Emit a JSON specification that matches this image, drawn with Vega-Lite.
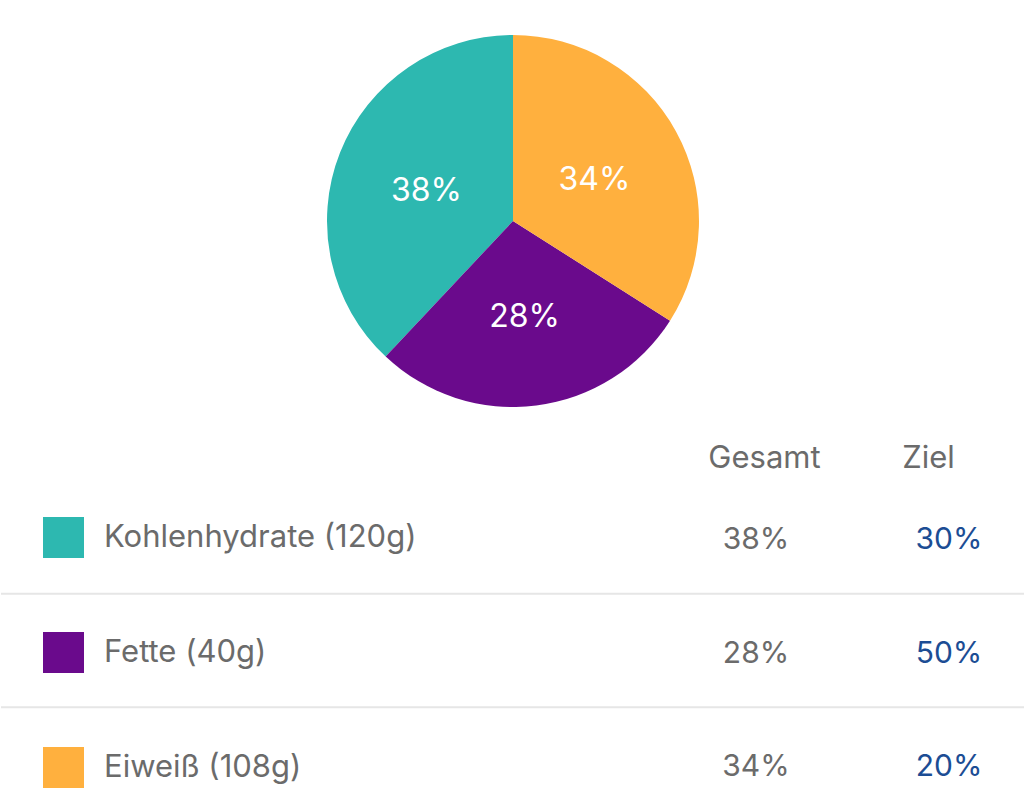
{
  "$schema": "https://vega.github.io/schema/vega-lite/v6.json",
  "padding": 0,
  "spacing": 0,
  "background": "white",
  "config": {
    "view": {"stroke": null},
    "font": "Inter",
    "concat": {"spacing": 0}
  },
  "data": {
    "values": [
      {"name": "Kohlenhydrate (120g)", "gesamt": 0.38, "ziel": 0.30},
      {"name": "Fette (40g)", "gesamt": 0.28, "ziel": 0.50},
      {"name": "Eiweiß (108g)", "gesamt": 0.34, "ziel": 0.20}
    ]
  },
  "vconcat": [
    {
      "width": 1024,
      "height": 442,
      "layer": [
        {
          "mark": {"type": "arc", "outerRadius": 186},
          "encoding": {
            "theta": {"field": "gesamt", "type": "quantitative", "stack": true},
            "order": {"field": "name", "type": "ordinal"},
            "color": {
              "field": "name",
              "type": "nominal",
              "scale": {
                "domain": ["Kohlenhydrate (120g)", "Fette (40g)", "Eiweiß (108g)"],
                "range": ["#2db8b0", "#6a0a8c", "#ffb03e"]
              },
              "legend": {
                "orient": "none",
                "legendX": 42,
                "legendY": 517,
                "direction": "vertical",
                "title": null,
                "padding": 0,
                "symbolType": "square",
                "symbolSize": 1681,
                "symbolStrokeWidth": 0,
                "symbolOpacity": 1,
                "labelFont": "Inter",
                "labelFontSize": 31,
                "labelColor": "#6b6b6b",
                "labelOffset": 20,
                "labelLimit": 500,
                "rowPadding": 74
              }
            }
          }
        },
        {
          "mark": {"type": "text", "radius": 93, "fill": "white", "fontSize": 32, "dy": 4},
          "encoding": {
            "theta": {"field": "gesamt", "type": "quantitative", "stack": true},
            "order": {"field": "name", "type": "ordinal"},
            "text": {"field": "gesamt", "type": "quantitative", "format": ".0%"}
          }
        }
      ]
    },
    {
      "width": 1024,
      "height": 336,
      "encoding": {
        "y": {
          "field": "name",
          "type": "nominal",
          "scale": {
            "type": "point",
            "domain": ["Kohlenhydrate (120g)", "Fette (40g)", "Eiweiß (108g)"],
            "padding": 0.4803,
            "align": 0.607
          },
          "axis": null
        }
      },
      "layer": [
        {
          "transform": [{"filter": "datum.name != 'Kohlenhydrate (120g)'"}],
          "mark": {"type": "rule", "yOffset": -60, "color": "#e6e6e6", "strokeWidth": 2},
          "encoding": {}
        },
        {
          "mark": {"type": "text", "fontSize": 30, "color": "#6b6b6b", "dx": -8},
          "encoding": {
            "x": {
              "datum": "Gesamt",
              "type": "nominal",
              "scale": {
                "type": "point",
                "domain": ["Gesamt", "Ziel"],
                "range": [763, 927],
                "padding": 0
              },
              "axis": {
                "orient": "top",
                "title": null,
                "domain": false,
                "ticks": false,
                "grid": false,
                "labelPadding": 0,
                "labelFont": "Inter",
                "labelFontSize": 31,
                "labelColor": "#6b6b6b",
                "labelAngle": 0
              }
            },
            "text": {"field": "gesamt", "type": "quantitative", "format": ".0%"}
          }
        },
        {
          "mark": {"type": "text", "fontSize": 30, "color": "#1c4d94", "dx": 21},
          "encoding": {
            "x": {"datum": "Ziel", "type": "nominal"},
            "text": {"field": "ziel", "type": "quantitative", "format": ".0%"}
          }
        }
      ]
    }
  ]
}
